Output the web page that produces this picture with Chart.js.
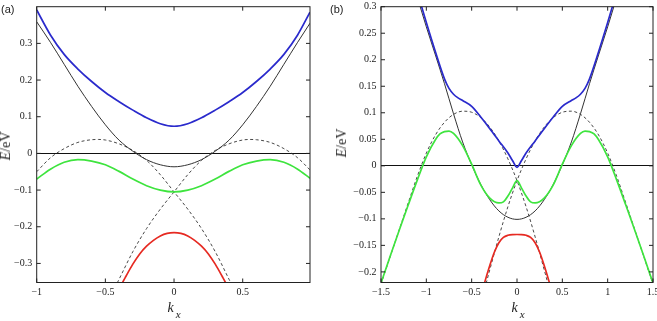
<!DOCTYPE html>
<html>
<head>
<meta charset="utf-8">
<script src="https://cdn.jsdelivr.net/npm/chart.js@4/dist/chart.umd.min.js"></script>
<style>
  body { margin: 0; background: #fff; }
  #page { position: relative; width: 657px; height: 321px; overflow: hidden; }
  canvas { position: absolute; top: 0; }
  .lbl { position: absolute; white-space: nowrap; color: #222; line-height: 1; }
  .panel { font: 11px "Liberation Sans", Arial, sans-serif; }
  .ytitle { font: 14px "Liberation Serif", serif; transform: translate(-50%, -50%) rotate(-90deg); }
  .xtitle { font: italic 14px "Liberation Serif", serif; transform: translateX(-50%); }
  .xtitle sub { font-size: 11px; vertical-align: -6px; margin-left: 2px; }
</style>
</head>
<body>
<div id="page">
  <canvas id="chart-a" width="327" height="321" style="left:0"></canvas>
  <canvas id="chart-b" width="330" height="321" style="left:327px"></canvas>
  <div class="lbl panel" style="left:1px; top:3px">(a)</div>
  <div class="lbl panel" style="left:330px; top:3px">(b)</div>
  <div class="lbl ytitle" style="left:6px; top:146px"><i>E</i>/eV</div>
  <div class="lbl ytitle" style="left:342px; top:143px"><i>E</i>/eV</div>
  <div class="lbl xtitle" style="left:174px; top:300px">k<sub>x</sub></div>
  <div class="lbl xtitle" style="left:518px; top:300px">k<sub>x</sub></div>
</div>
<script>
// Panel (a) data
const A_X_TICKS = [-1, -0.5, 0, 0.5];
const A_Y_TICKS = [-0.3, -0.2, -0.1, 0, 0.1, 0.2, 0.3];

const A_K = [-1, -0.9, -0.8, -0.7, -0.6, -0.5, -0.4, -0.3, -0.2, -0.1, 0, 0.1, 0.2, 0.3, 0.4, 0.5, 0.6, 0.7, 0.8, 0.9, 0.99];
const A_BLUE = [0.391, 0.323, 0.270, 0.230, 0.196, 0.166, 0.141, 0.118, 0.097, 0.081, 0.074, 0.081, 0.097, 0.118, 0.141, 0.166, 0.196, 0.230, 0.270, 0.323, 0.385];
const A_BLACK = [0.359, 0.303, 0.243, 0.183, 0.128, 0.078, 0.036, 0.006, -0.017, -0.031, -0.0365, -0.031, -0.017, 0.006, 0.036, 0.078, 0.128, 0.183, 0.243, 0.303, 0.355];
const A_GREEN = [-0.070, -0.043, -0.024, -0.017, -0.021, -0.031, -0.049, -0.070, -0.088, -0.100, -0.105, -0.100, -0.088, -0.070, -0.049, -0.031, -0.021, -0.017, -0.024, -0.043, -0.068];

const A_DASH1_K = [-1, -0.9, -0.8, -0.7, -0.6, -0.55, -0.5, -0.4, -0.3, -0.2, -0.1, 0, 0.1, 0.2, 0.3, 0.4, 0.45];
const A_DASH1 = [-0.050, -0.012, 0.013, 0.030, 0.0373, 0.038, 0.0365, 0.026, 0.008, -0.019, -0.058, -0.105, -0.152, -0.205, -0.268, -0.343, -0.38];
const A_DASH2_K = [-0.45, -0.4, -0.3, -0.2, -0.1, 0, 0.1, 0.2, 0.3, 0.4, 0.5, 0.55, 0.6, 0.7, 0.8, 0.9, 0.99];
const A_DASH2 = [-0.38, -0.343, -0.268, -0.205, -0.152, -0.105, -0.058, -0.019, 0.008, 0.026, 0.0365, 0.038, 0.0373, 0.030, 0.013, -0.012, -0.045];

const A_RED_K = [-0.45, -0.4, -0.35, -0.3, -0.25, -0.2, -0.15, -0.1, -0.05, 0, 0.05, 0.1, 0.15, 0.2, 0.25, 0.3, 0.35, 0.4, 0.45];
const A_RED = [-0.41, -0.370, -0.335, -0.302, -0.274, -0.253, -0.237, -0.225, -0.218, -0.216, -0.218, -0.225, -0.237, -0.253, -0.274, -0.302, -0.335, -0.370, -0.41];

// Panel (b) data
const B_X_TICKS = [-1.5, -1, -0.5, 0, 0.5, 1, 1.5];
const B_Y_TICKS = [-0.2, -0.15, -0.1, -0.05, 0, 0.05, 0.1, 0.15, 0.2, 0.25, 0.3];

const B_BLUE_K = [-1.2, -1.1, -1.0, -0.9, -0.8, -0.75, -0.7, -0.65, -0.6, -0.5, -0.4, -0.3, -0.2, -0.1, -0.05, 0, 0.05, 0.1, 0.2, 0.3, 0.4, 0.5, 0.6, 0.65, 0.7, 0.75, 0.8, 0.9, 1.0, 1.1, 1.2];
const B_BLUE = [0.385, 0.328, 0.270, 0.215, 0.164, 0.146, 0.135, 0.128, 0.123, 0.112, 0.092, 0.070, 0.047, 0.024, 0.010, -0.003, 0.010, 0.024, 0.047, 0.070, 0.092, 0.112, 0.123, 0.128, 0.135, 0.146, 0.164, 0.215, 0.270, 0.328, 0.385];

const B_BLACK_K = [-1.2, -1.1, -1.0, -0.9, -0.8, -0.7, -0.6, -0.5, -0.4, -0.3, -0.2, -0.1, 0, 0.1, 0.2, 0.3, 0.4, 0.5, 0.6, 0.7, 0.8, 0.9, 1.0, 1.1, 1.2];
const B_BLACK = [0.372, 0.318, 0.262, 0.209, 0.155, 0.098, 0.045, 0.002, -0.035, -0.064, -0.085, -0.097, -0.101, -0.097, -0.085, -0.064, -0.035, 0.002, 0.045, 0.098, 0.155, 0.209, 0.262, 0.318, 0.372];

const B_GREEN_K = [-1.5, -1.4, -1.3, -1.2, -1.1, -1.0, -0.9, -0.85, -0.8, -0.75, -0.7, -0.6, -0.5, -0.4, -0.3, -0.2, -0.15, -0.1, -0.05, 0, 0.05, 0.1, 0.15, 0.2, 0.3, 0.4, 0.5, 0.6, 0.7, 0.75, 0.8, 0.85, 0.9, 1.0, 1.1, 1.2, 1.3, 1.4, 1.5];
const B_GREEN = [-0.221, -0.171, -0.122, -0.074, -0.027, 0.017, 0.049, 0.060, 0.0645, 0.0655, 0.061, 0.038, 0.003, -0.036, -0.061, -0.070, -0.068, -0.057, -0.042, -0.028, -0.042, -0.057, -0.068, -0.070, -0.061, -0.036, 0.003, 0.038, 0.061, 0.0655, 0.0645, 0.060, 0.049, 0.017, -0.027, -0.074, -0.122, -0.171, -0.221];

const B_DASH1_K = [-1.5, -1.4, -1.3, -1.2, -1.1, -1.0, -0.9, -0.8, -0.7, -0.6, -0.5, -0.4, -0.3, -0.2, -0.1, 0, 0.1, 0.2, 0.3, 0.35, 0.4];
const B_DASH1 = [-0.223, -0.172, -0.121, -0.070, -0.020, 0.024, 0.058, 0.082, 0.097, 0.103, 0.101, 0.091, 0.073, 0.047, 0.013, -0.028, -0.077, -0.134, -0.196, -0.228, -0.262];
const B_DASH2_K = [-0.4, -0.35, -0.3, -0.2, -0.1, 0, 0.1, 0.2, 0.3, 0.4, 0.5, 0.6, 0.7, 0.8, 0.9, 1.0, 1.1, 1.2, 1.3, 1.4, 1.5];
const B_DASH2 = [-0.262, -0.228, -0.196, -0.134, -0.077, -0.028, 0.013, 0.047, 0.073, 0.091, 0.101, 0.103, 0.097, 0.082, 0.058, 0.024, -0.020, -0.070, -0.121, -0.172, -0.223];

const B_RED_K = [-0.45, -0.4, -0.35, -0.3, -0.25, -0.2, -0.15, -0.1, -0.05, 0, 0.05, 0.1, 0.15, 0.2, 0.25, 0.3, 0.35, 0.4, 0.45];
const B_RED = [-0.278, -0.246, -0.216, -0.188, -0.163, -0.145, -0.135, -0.131, -0.1297, -0.1295, -0.1297, -0.131, -0.135, -0.145, -0.163, -0.188, -0.216, -0.246, -0.278];

// Styles
const BLUE = "#2a2acc";
const GREEN = "#3ee43e";
const RED = "#e62a22";
const DARK = "#333";
const TICK_LEN = 4;
const TICK_FONT = { family: "'Liberation Serif', serif", size: 10 };

// Turn k and E arrays into points
function pts(ks, es) {
  return ks.map((k, i) => ({ x: k, y: es[i] }));
}

// Minus sign like the original
function fmt(v) {
  return (v < 0 ? "\u2212" : "") + Math.abs(v);
}

function line(data, color, width, dash) {
  return {
    data: data,
    borderColor: color,
    borderWidth: width,
    borderDash: dash || [],
    pointRadius: 0,
    cubicInterpolationMode: "monotone",
    fill: false
  };
}

// Box and inward ticks on all four sides
const frame = {
  id: "frame",
  afterDraw(chart) {
    const { ctx, chartArea: a, scales } = chart;
    ctx.save();
    ctx.strokeStyle = "#222";
    ctx.lineWidth = 1;
    ctx.strokeRect(a.left, a.top, a.right - a.left, a.bottom - a.top);
    ctx.beginPath();
    scales.x.ticks.forEach(t => {
      const px = scales.x.getPixelForValue(t.value);
      ctx.moveTo(px, a.bottom); ctx.lineTo(px, a.bottom - TICK_LEN);
      ctx.moveTo(px, a.top); ctx.lineTo(px, a.top + TICK_LEN);
    });
    scales.y.ticks.forEach(t => {
      const py = scales.y.getPixelForValue(t.value);
      ctx.moveTo(a.left, py); ctx.lineTo(a.left + TICK_LEN, py);
      ctx.moveTo(a.right, py); ctx.lineTo(a.right - TICK_LEN, py);
    });
    ctx.stroke();
    ctx.restore();
  }
};

function makeChart(id, datasets, xr, yr, xTicks, yTicks, pad, yWidth) {
  return new Chart(document.getElementById(id), {
    type: "line",
    data: { datasets: datasets },
    options: {
      animation: false,
      responsive: false,
      layout: { padding: pad },
      plugins: { legend: { display: false }, tooltip: { enabled: false } },
      scales: {
        x: {
          type: "linear",
          min: xr[0],
          max: xr[1],
          afterBuildTicks: s => { s.ticks = xTicks.map(v => ({ value: v })); },
          afterFit: s => { s.height = 38.5; s.paddingLeft = 0; s.paddingRight = 0; },
          grid: { display: false, drawTicks: false },
          border: { display: false },
          ticks: { font: TICK_FONT, color: "#222", padding: 4, maxRotation: 0, autoSkip: false, callback: fmt }
        },
        y: {
          type: "linear",
          min: yr[0],
          max: yr[1],
          afterBuildTicks: s => { s.ticks = yTicks.map(v => ({ value: v })); },
          afterFit: s => { s.width = yWidth; s.paddingTop = 0; s.paddingBottom = 0; },
          grid: {
            drawTicks: false,
            lineWidth: 1.1,
            color: c => (c.tick && c.tick.value === 0 ? "#111" : "rgba(0,0,0,0)")
          },
          border: { display: false },
          ticks: { font: TICK_FONT, color: "#222", padding: 4.5, autoSkip: false, callback: fmt }
        }
      }
    },
    plugins: [frame]
  });
}

// Panel (a)
makeChart("chart-a", [
  line(pts(A_K, A_BLUE), BLUE, 1.7),
  line(pts(A_K, A_GREEN), GREEN, 1.7),
  line(pts(A_RED_K, A_RED), RED, 1.7),
  line(pts(A_K, A_BLACK), DARK, 1),
  line(pts(A_DASH1_K, A_DASH1), DARK, 0.9, [3, 2.5]),
  line(pts(A_DASH2_K, A_DASH2), DARK, 0.9, [3, 2.5])
], [-1, 0.99], [-0.352, 0.4], A_X_TICKS, A_Y_TICKS,
  { left: 0, top: 6.7, right: 17, bottom: 0 }, 36.7);

// Panel (b)
makeChart("chart-b", [
  line(pts(B_BLUE_K, B_BLUE), BLUE, 1.7),
  line(pts(B_GREEN_K, B_GREEN), GREEN, 1.7),
  line(pts(B_RED_K, B_RED), RED, 1.7),
  line(pts(B_BLACK_K, B_BLACK), DARK, 1),
  line(pts(B_DASH1_K, B_DASH1), DARK, 0.9, [3, 2.5]),
  line(pts(B_DASH2_K, B_DASH2), DARK, 0.9, [3, 2.5])
], [-1.5, 1.5], [-0.22, 0.3], B_X_TICKS, B_Y_TICKS,
  { left: 0, top: 6.7, right: 4, bottom: 0 }, 54);
</script>
</body>
</html>
